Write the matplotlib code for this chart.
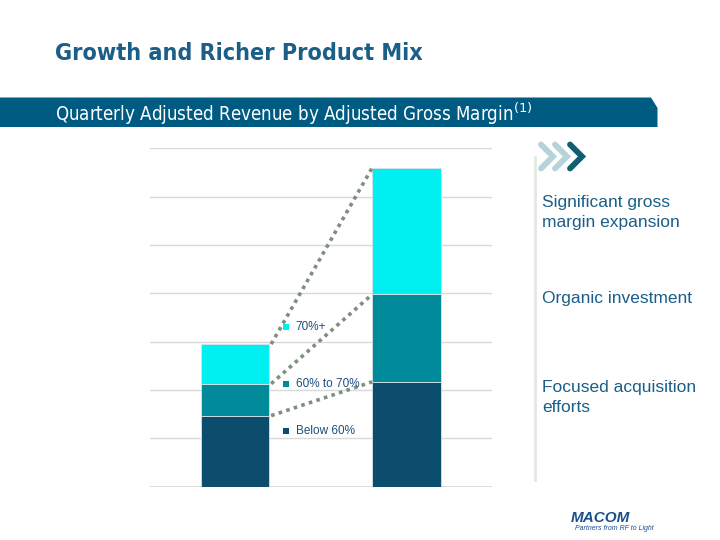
import matplotlib
matplotlib.use("Agg")
import matplotlib.pyplot as plt
from matplotlib import font_manager
from matplotlib.font_manager import FontProperties
from matplotlib.patches import Polygon
import numpy as np

# ---- data ----
categories = ["Before", "After"]
below_60 = [1.47, 2.17]
mid_60_70 = [0.66, 1.81]
above_70 = [0.82, 2.62]
series_labels = ["Below 60%", "60% to 70%", "70%+"]
series_colors = ["#0c4d6e", "#008a9a", "#00eff0"]
bullets = ["Significant gross\nmargin expansion", "Organic investment", "Focused acquisition\nefforts"]

plt.rcParams["font.family"] = ["Liberation Sans", "DejaVu Sans"]

def find_font(family, stretch=None, weight=None):
    for f in font_manager.fontManager.ttflist:
        if f.name == family and (stretch is None or f.stretch == stretch) and \
           (weight is None or f.weight == weight) and f.style == "normal":
            return f.fname
    return None

cond_bold = find_font("DejaVu Sans", "condensed", 700)
cond_reg = find_font("DejaVu Sans", "condensed", 400)

def fp(path, fallback_weight="normal"):
    if path:
        return FontProperties(fname=path)
    return FontProperties(family=["Liberation Sans", "DejaVu Sans"], weight=fallback_weight)

W, H = 720, 540
fig = plt.figure(figsize=(7.2, 5.4), dpi=100)
fig.patch.set_facecolor("white")
renderer = fig.canvas.get_renderer()

def fx(x):
    return x / W

def fy(y):
    return 1 - y / H

def fit_text(x, y, s, size, target_w, prop, **kw):
    t = fig.text(fx(x), fy(y), s, fontproperties=prop, **kw)
    t.set_fontsize(size)
    w = t.get_window_extent(renderer=renderer).width
    t.set_fontsize(size * target_w / w)
    return t

# Title
fit_text(55, 54, "Growth and Richer Product Mix", 19, 368, fp(cond_bold, "bold"),
         color="#1b5e88", ha="left", va="center")

# Banner
banner = Polygon([(fx(0), fy(97.5)), (fx(651), fy(97.5)), (fx(657.5), fy(108)),
                  (fx(657.5), fy(127)), (fx(0), fy(127))], closed=True,
                 transform=fig.transFigure, facecolor="#005b83", edgecolor="none")
fig.patches.append(banner)
fit_text(55, 113.5, r"Quarterly Adjusted Revenue by Adjusted Gross Margin$^{(1)}$", 13, 475,
         fp(cond_reg), color="white", ha="left", va="center")

# Chart axes
ax = fig.add_axes([fx(150), fy(486.7), fx(491.7) - fx(150), (486.7 - 148.3) / H])
x = np.arange(len(categories))
bw = 0.4
bottoms = np.zeros(len(categories))
stack = [below_60, mid_60_70, above_70]
tops = []
for vals, col, lab in zip(stack, series_colors, series_labels):
    ax.bar(x, vals, bw, bottom=bottoms, color=col, label=lab, zorder=3,
           edgecolor="#d8e4ea", linewidth=0.6)
    bottoms = bottoms + np.array(vals)
    tops.append(bottoms.copy())

for t in tops:
    ax.plot([x[0] + bw / 2 + 0.01, x[1] - bw / 2], [t[0], t[1]], color="#7e8f7e",
            linestyle=(0, (1, 1.2)), linewidth=2.6, zorder=4)

ax.set_xlim(-0.497, 1.497)
ax.set_ylim(0, 7)
ax.set_yticks(np.arange(0, 8))
ax.yaxis.grid(True, color="#d9d9d9", linewidth=1.0, zorder=0)
ax.axhline(0, color="#d9d9d9", linewidth=2, zorder=2)
ax.tick_params(left=False, bottom=False, labelleft=False, labelbottom=False)
for s in ax.spines.values():
    s.set_visible(False)
ax.set_facecolor("none")

# Inline legend
leg_y = {"70%+": 327.3, "60% to 70%": 384.3, "Below 60%": 430.7}
for lab, col in zip(series_labels, series_colors):
    yy = leg_y[lab]
    fig.patches.append(plt.Rectangle((fx(283.3), fy(yy + 3)), 6 / W, 6 / H,
                                     transform=fig.transFigure, facecolor=col, edgecolor="none"))
    fig.text(fx(295.5), fy(yy), lab, fontsize=8.5, color="#1f4e79", ha="left", va="center")

# Right panel: vertical line and chevrons
fig.add_artist(plt.Line2D([fx(535), fx(535)], [fy(157), fy(480)], color="#e2e8e2", linewidth=2))
chev_cols = ["#b4d3db", "#b4d3db", "#0e5f72"]
for x0, c in zip([541, 555, 570], chev_cols):
    fig.add_artist(plt.Line2D([fx(x0), fx(x0 + 12), fx(x0)], [fy(144.5), fy(156.5), fy(168.5)],
                              color=c, linewidth=4.2, solid_capstyle="round", solid_joinstyle="miter"))

for txt, yy in zip(bullets, [212.5, 299, 397.5]):
    fig.text(fx(542), fy(yy), txt, fontsize=12.5, color="#1b5e88", ha="left", va="center",
             linespacing=1.45)

# Logo
fig.text(fx(600), fy(518.5), "MACOM", fontsize=11, color="#1b4f8c", fontweight="bold",
         style="italic", ha="center", va="center")
fig.text(fx(614), fy(529), "Partners from RF to Light", fontsize=5, color="#1b4f8c",
         style="italic", ha="center", va="center")

fig.savefig("out.png", dpi=100, facecolor="white")
